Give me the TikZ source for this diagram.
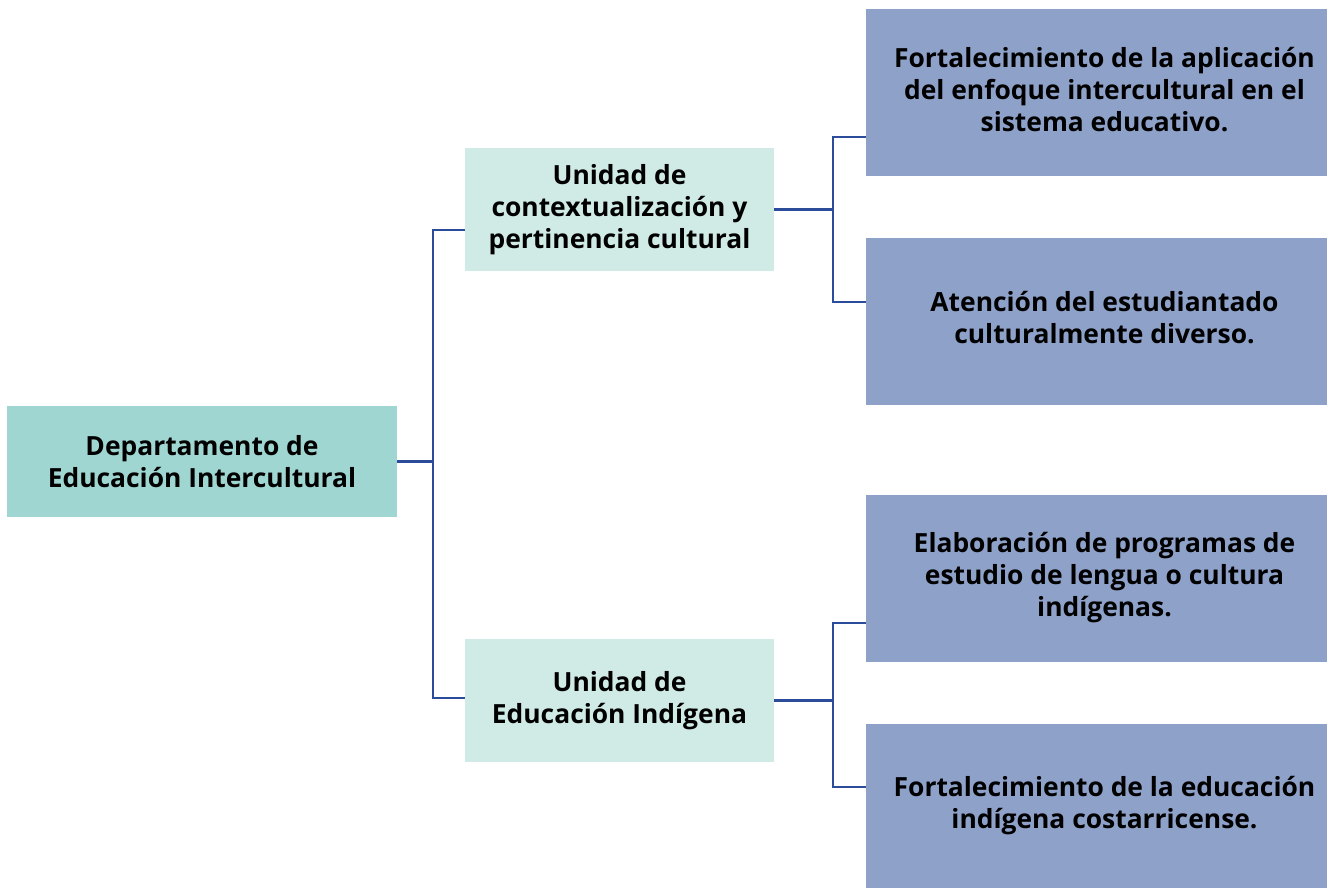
\documentclass[tikz,border=0pt]{standalone}
\usepackage{fontspec}
\setmainfont{Open Sans}
\definecolor{deptcol}{HTML}{9FD6D1}
\definecolor{unitcol}{HTML}{D0EAE6}
\definecolor{taskcol}{HTML}{8EA1C9}
\definecolor{linkcol}{HTML}{2B4C9B}
% task texts sit a little right of the box centre
\newcommand{\tasklines}[1]{\hspace*{12pt}\begin{tabular}{@{}c@{}}#1\end{tabular}}

\begin{document}
\begin{tikzpicture}[x=0.75pt, y=-0.75pt,
    box/.style={inner sep=0pt, align=center, font=\fontsize{19.8}{24}\selectfont\bfseries},
    dept/.style={box, fill=deptcol, minimum width=292.5pt, minimum height=83.25pt},
    unit/.style={box, fill=unitcol, minimum width=231.75pt, minimum height=92.25pt},
    task/.style={box, fill=taskcol, minimum width=345.75pt, minimum height=125.25pt},
    link/.style={linkcol, line width=2.2pt}]
    \useasboundingbox (0,0) rectangle (1327,888);
    \node[dept] (dep) at (202,461.5) {Departamento de\\Educación Intercultural};
    \node[unit] (u1) at (619.5,209.5) {Unidad de\\contextualización y\\pertinencia cultural};
    \node[unit] (u2) at (619.5,700.5) {Unidad de\\Educación Indígena};
    \node[task] (t1) at (1096.5,93) {\tasklines{Fortalecimiento de la aplicación\\del enfoque intercultural en el\\sistema educativo.}};
    \node[task] (t2) at (1096.5,321.5) {\tasklines{Atención del estudiantado\\culturalmente diverso.}};
    \node[task] (t3) at (1096.5,578.5) {\tasklines{Elaboración de programas de\\estudio de lengua o cultura\\indígenas.}};
    \node[task, minimum height=123pt] (t4) at (1096.5,806) {\tasklines{Fortalecimiento de la educación\\indígena costarricense.}};
    % junctions
    \coordinate (b1) at (433,230);
    \coordinate (b2) at (433,698);
    \coordinate (c1) at (833,137);
    \coordinate (c2) at (833,302);
    \coordinate (c3) at (833,623);
    \coordinate (c4) at (833,787);
    \draw[link] (dep.east) -- (dep.east -| b1);
    \draw[link] (b1 -| u1.west) -- (b1) -- (b2) -- (b2 -| u2.west);
    \draw[link] (u1.east) -- (u1.east -| c1);
    \draw[link] (c1 -| t1.west) -- (c1) -- (c2) -- (c2 -| t2.west);
    \draw[link] (u2.east) -- (u2.east -| c3);
    \draw[link] (c3 -| t3.west) -- (c3) -- (c4) -- (c4 -| t4.west);
\end{tikzpicture}
\end{document}
